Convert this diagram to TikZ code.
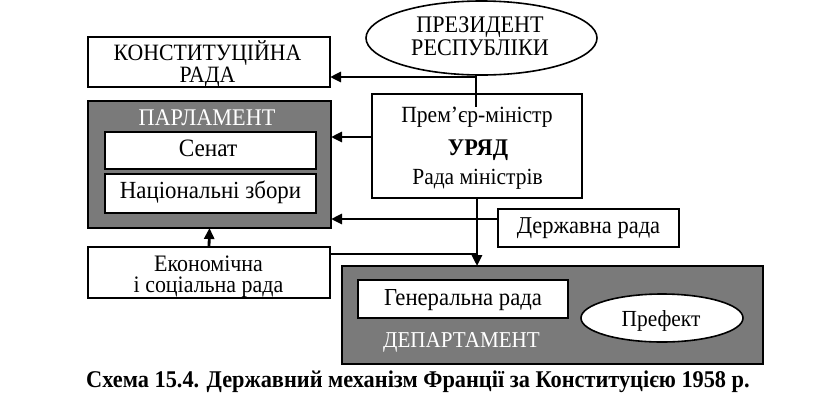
\documentclass[tikz,border=0pt]{standalone}
\usepackage{fontspec}
\setmainfont{Liberation Serif}[FakeStretch=0.93]
\usetikzlibrary{arrows.meta,shapes.geometric,calc}
\definecolor{boxgray}{RGB}{122,122,122}
\begin{document}
\begin{tikzpicture}[x=1pt,y=-1pt,
  every node/.style={inner sep=0pt,outer sep=0pt,align=center},
  wbox/.style={draw=black,line width=1.6pt,fill=white,rectangle},
  gbox/.style={draw=black,line width=1.6pt,fill=boxgray,rectangle},
  oval/.style={draw=black,line width=1.6pt,fill=white,ellipse},
  lbl/.style={anchor=base,font=\fontsize{#1}{#1}\selectfont},
  wlbl/.style={anchor=base,text=white,font=\fontsize{#1}{#1}\selectfont},
  blbl/.style={anchor=base,font=\fontsize{#1}{#1}\selectfont\bfseries},
  arr/.style={line width=2.8pt,-{Triangle[length=11pt,width=10pt]}},
  thinln/.style={line width=1.3pt}]
\useasboundingbox (0,0) rectangle (821,400);
\fill[white] (0,0) rectangle (821,400);
% shapes
\node[oval,minimum width=231pt,minimum height=74pt] (pres) at (481.5,38) {};
\node[wbox,minimum width=242pt,minimum height=50pt] (kr) at (209,62) {};
\node[gbox,minimum width=243pt,minimum height=127pt] (parl) at (209.5,164.5) {};
\node[wbox,minimum width=211pt,minimum height=37pt] (senat) at (210.5,150.5) {};
\node[wbox,minimum width=211pt,minimum height=39pt] (nz) at (210.5,193.5) {};
\node[wbox,minimum width=210pt,minimum height=104pt] (gov) at (477,146) {};
\node[wbox,minimum width=181pt,minimum height=38pt] (dr) at (588.5,228) {};
\node[wbox,minimum width=242pt,minimum height=51pt] (esr) at (209,272.5) {};
\node[gbox,minimum width=421pt,minimum height=98pt] (dep) at (552.5,315) {};
\node[wbox,minimum width=210pt,minimum height=38pt] (gr) at (463,299) {};
\node[oval,minimum width=162pt,minimum height=48pt] (pref) at (662,318) {};
% texts (base anchor of a two-line node = baseline of its last line)
\node[anchor=base,font=\fontsize{23.8}{23}\selectfont] (prest) at (480,55) {ПРЕЗИДЕНТ\\РЕСПУБЛІКИ};
\node[anchor=base,font=\fontsize{23.4}{20}\selectfont] (krt) at (207.5,82) {КОНСТИТУЦІЙНА\\РАДА};
\node[wlbl=23.9] (parlt) at (207,125) {ПАРЛАМЕНТ};
\node[lbl=25] (senatt) at (208,156) {Сенат};
\node[lbl=24.6] (nzt) at (210.5,198) {Національні збори};
\node[lbl=23.2] (prem) at (477,122) {Прем’єр-міністр};
\node[blbl=23.9] (uryad) at (478,155) {УРЯД};
\node[lbl=23.1] (radam) at (477.5,184) {Рада міністрів};
\node[lbl=24.2] (drt) at (588.5,233) {Державна рада};
\node[anchor=base,font=\fontsize{23.6}{21.5}\selectfont] (esrt) at (208.5,292.5) {Економічна\\і соціальна рада};
\node[lbl=24.4] (grt) at (463,305) {Генеральна рада};
\node[lbl=23] (preft) at (661,326) {Префект};
\node[wlbl=22.7] (dept) at (461.5,347) {ДЕПАРТАМЕНТ};
\node[blbl=24] (cap) at (418,387) {Схема 15.4. Державний механізм Франції за Конституцією 1958 р.};
% connectors
\coordinate (pe) at (476,107);
\coordinate (a1) at (476,77);
\coordinate (a2) at (372,137);
\coordinate (a3) at (498,219);
\coordinate (a4) at (330,254);
\draw[line width=1.6pt] (pe |- pres.south) -- (pe);
\draw[arr] (a1) -- (a1 -| kr.east);
\draw[arr] (a2) -- (a2 -| parl.east);
\draw[arr] (a3) -- (a3 -| parl.east);
\draw[arr] (gov.south) -- (gov.south |- dep.north);
\draw[arr] (esr.north) -- (parl.south);
\draw[thinln] (a4) -- (a4 -| gov.south);
\end{tikzpicture}
\end{document}
